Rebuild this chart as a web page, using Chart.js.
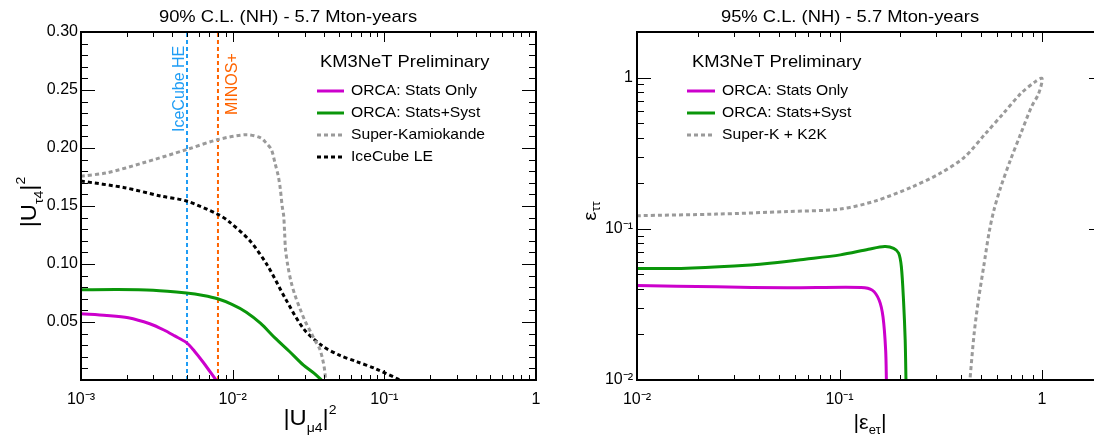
<!DOCTYPE html>
<html><head><meta charset="utf-8">
<script src="https://cdn.jsdelivr.net/npm/chart.js@4.4.0/dist/chart.umd.min.js"></script>
<style>
html,body{margin:0;padding:0;background:#fff;overflow:hidden;width:1094px;height:436px;}
.pane{position:absolute;top:0;height:436px;}
</style></head><body>
<div class="pane" style="left:0;width:560px"><canvas id="c1"></canvas></div>
<div class="pane" style="left:546px;width:572px"><canvas id="c2"></canvas></div>
<script>
// ---------- Left panel: |U_tau4|^2 vs |U_mu4|^2 (90% C.L.) ----------
const leftStatsOnlyX = [0.001, 0.00148, 0.00205, 0.00284, 0.00352, 0.00415, 0.00496, 0.0056, 0.00641, 0.00776];
const leftStatsOnlyY = [0.0571, 0.0557, 0.0537, 0.0485, 0.0431, 0.0380, 0.0322, 0.0248, 0.0151, 0];
const leftStatsSystX = [0.001, 0.00174, 0.00299, 0.00496, 0.00641, 0.00796, 0.00989, 0.0123, 0.0153, 0.019, 0.0236, 0.0293, 0.0345, 0.0385];
const leftStatsSystY = [0.0777, 0.078, 0.0774, 0.0749, 0.0728, 0.070, 0.0652, 0.0585, 0.0488, 0.0363, 0.0248, 0.0128, 0.0057, 0];
const superKamX = [0.001, 0.00148, 0.00254, 0.00496, 0.00796, 0.0123, 0.0153, 0.0166, 0.018, 0.019, 0.020, 0.0206, 0.0212, 0.0217, 0.022, 0.0223, 0.0231, 0.0243, 0.0258, 0.0278, 0.0301, 0.0327, 0.0351, 0.0374, 0.0391, 0.0404, 0.041];
const superKamY = [0.1757, 0.1786, 0.187, 0.1986, 0.2072, 0.2115, 0.2087, 0.2044, 0.1986, 0.1872, 0.1757, 0.1650, 0.150, 0.1414, 0.1272, 0.1129, 0.0985, 0.0843, 0.0728, 0.0614, 0.0505, 0.0414, 0.0334, 0.0271, 0.0185, 0.0085, 0];
const iceCubeLEX = [0.001, 0.00194, 0.00334, 0.00496, 0.00796, 0.00937, 0.013, 0.017, 0.0223, 0.0293, 0.0385, 0.0505, 0.0662, 0.0869, 0.127];
const iceCubeLEY = [0.1715, 0.1658, 0.1586, 0.1543, 0.1429, 0.137, 0.120, 0.0985, 0.070, 0.0443, 0.0299, 0.0214, 0.0157, 0.0099, 0];
const iceCubeHEX = 0.005;
const minosPlusX = 0.008;
const leftYRange = [0, 0.30];
const leftXRange = [0.001, 1];

// ---------- Right panel: eps_tautau vs |eps_etau| (95% C.L.) ----------
const rightStatsOnlyX = [0.01, 0.0247, 0.0552, 0.128, 0.145, 0.157, 0.164, 0.169, 0.1705];
const rightStatsOnlyY = [0.0422, 0.0413, 0.0407, 0.0409, 0.0393, 0.0337, 0.0261, 0.0157, 0.0095];
const rightStatsSystX = [0.01, 0.0165, 0.0302, 0.0452, 0.0676, 0.101, 0.139, 0.167, 0.185, 0.196, 0.202, 0.207, 0.211, 0.213];
const rightStatsSystY = [0.0547, 0.0547, 0.0567, 0.0592, 0.0629, 0.0672, 0.0732, 0.0763, 0.0743, 0.0689, 0.0561, 0.0337, 0.0183, 0.0095];
const superKK2KX = [0.01, 0.0247, 0.0552, 0.101, 0.151, 0.226, 0.311, 0.413, 0.525, 0.643, 0.785, 0.923, 1.0, 0.962, 0.887, 0.785, 0.697, 0.625, 0.578, 0.547, 0.515, 0.485, 0.462, 0.439];
const superKK2KY = [0.122, 0.125, 0.130, 0.135, 0.153, 0.188, 0.231, 0.297, 0.425, 0.577, 0.783, 0.936, 0.985, 0.783, 0.64, 0.425, 0.283, 0.188, 0.132, 0.0936, 0.0561, 0.0337, 0.0202, 0.0095];
const rightXRange = [0.01, 2];
const rightYRange = [0.01, 2];

const FONT = "'Liberation Sans', Arial, Helvetica, sans-serif";
const SX = 1.08; // horizontal text stretch as in the reference rendering
const MAGENTA = '#cc00cc', GREEN = '#0a960a', GRAY = '#9a9a9a', BLACK = '#000000', BLUE = '#1f9df5', ORANGE = '#ff6400';
const DOT = [4, 3];

function pts(xs, ys) { return xs.map((x, i) => ({x: x, y: ys[i]})); }
function ds(label, data, color, dash, width) {
  return {label, data, borderColor: color, backgroundColor: color, borderDash: dash, borderWidth: width,
    showLine: true, pointRadius: 0, tension: 0.3, fill: false};
}
const SUP = {'-': '\u207B', '0': '\u2070', '1': '\u00B9', '2': '\u00B2', '3': '\u00B3', '4': '\u2074', '5': '\u2075'};
function isPow10(v) { const l = Math.log10(v); return Math.abs(l - Math.round(l)) < 1e-6; }
function powLabel(v) {
  const e = Math.round(Math.log10(v));
  if (e === 0) return '1';
  if (e === 1) return '10';
  return '10' + String(e).split('').map(c => SUP[c]).join('');
}
function logTicks(min, max) {
  const out = [];
  for (let e = Math.floor(Math.log10(min)); e <= Math.ceil(Math.log10(max)); e++)
    for (let m = 1; m <= 9; m++) {
      const v = m * Math.pow(10, e);
      if (v >= min * 0.9999 && v <= max * 1.0001) out.push({v, major: m === 1});
    }
  return out;
}
function linTicks(min, max, step, majorEvery) {
  const out = [];
  const n = Math.round((max - min) / step);
  for (let i = 0; i <= n; i++) out.push({v: min + i * step, major: i % majorEvery === 0});
  return out;
}

const frameTicks = {
  id: 'frameTicks',
  afterDatasetsDraw(chart, args, o) {
    const {ctx, chartArea: a, scales: {x, y}} = chart;
    ctx.save();
    ctx.strokeStyle = '#000';
    ctx.lineWidth = 1;
    ctx.beginPath();
    for (const t of o.xTicks) {
      const px = Math.round(x.getPixelForValue(t.v)) + 0.5;
      const L = t.major ? 10 : 5;
      ctx.moveTo(px, a.bottom); ctx.lineTo(px, a.bottom - L);
      ctx.moveTo(px, a.top); ctx.lineTo(px, a.top + L);
    }
    for (const t of o.yTicks) {
      const py = Math.round(y.getPixelForValue(t.v)) + 0.5;
      const L = t.major ? 14 : 7;
      ctx.moveTo(a.left, py); ctx.lineTo(a.left + L, py);
      ctx.moveTo(a.right, py); ctx.lineTo(a.right - L, py);
    }
    ctx.stroke();
    ctx.lineWidth = 2;
    ctx.strokeRect(a.left, a.top, a.right - a.left, a.bottom - a.top);
    ctx.restore();
  }
};

function stretchText(ctx, s, x, y, size, align) {
  ctx.save();
  ctx.font = size + 'px ' + FONT;
  ctx.translate(x, y);
  ctx.scale(SX, 1);
  ctx.textAlign = align || 'left';
  ctx.fillText(s, 0, 0);
  ctx.restore();
}
function drawRich(ctx, x, y, parts, align) {
  let w = 0;
  for (const p of parts) { ctx.font = p.size + 'px ' + FONT; w += ctx.measureText(p.t).width * SX; }
  let cx = align === 'center' ? x - w / 2 : x;
  for (const p of parts) {
    stretchText(ctx, p.t, cx, y + (p.dy || 0), p.size, 'left');
    ctx.font = p.size + 'px ' + FONT;
    cx += ctx.measureText(p.t).width * SX;
  }
}

const annot = {
  id: 'annot',
  afterDraw(chart, args, o) {
    const ctx = chart.ctx;
    ctx.save();
    ctx.textBaseline = 'middle';
    ctx.fillStyle = '#000';
    stretchText(ctx, o.title, o.titleX, 17, 17, 'center');
    stretchText(ctx, 'KM3NeT Preliminary', o.legX, 62, 17, 'left');
    o.legend.forEach((it, i) => {
      const yy = 91 + 22 * i;
      ctx.save();
      ctx.strokeStyle = it.color; ctx.lineWidth = 3; ctx.setLineDash(it.dash);
      ctx.beginPath(); ctx.moveTo(o.lineX0, yy); ctx.lineTo(o.lineX1, yy); ctx.stroke();
      ctx.restore();
      stretchText(ctx, it.label, o.textX, yy, 14.5, 'left');
    });
    ctx.textBaseline = 'alphabetic';
    drawRich(ctx, o.xTitleX, o.xTitleY, o.xTitle, 'center');
    ctx.save();
    ctx.translate(o.yTitleX, o.yTitleY);
    ctx.rotate(-Math.PI / 2);
    drawRich(ctx, 0, 0, o.yTitle, 'center');
    ctx.restore();
    (o.vlabels || []).forEach(v => {
      ctx.save();
      ctx.fillStyle = v.color;
      ctx.font = '16px ' + FONT;
      ctx.translate(chart.scales.x.getPixelForValue(v.x) + v.dx, v.y);
      ctx.rotate(-Math.PI / 2);
      ctx.textAlign = 'left';
      ctx.fillText(v.text, 0, 0);
      ctx.restore();
    });
    ctx.restore();
  }
};

function axisCommon(extra) {
  return Object.assign({
    grid: {display: false, drawTicks: false},
    border: {display: false},
  }, extra);
}
const tickFont = {family: FONT, size: 16};

// ----- left chart -----
new Chart(document.getElementById('c1'), {
  type: 'scatter',
  data: {datasets: [
    ds('ORCA: Stats Only', pts(leftStatsOnlyX, leftStatsOnlyY), MAGENTA, [], 3),
    ds('ORCA: Stats+Syst', pts(leftStatsSystX, leftStatsSystY), GREEN, [], 3),
    ds('Super-Kamiokande', pts(superKamX, superKamY), GRAY, DOT, 3),
    ds('IceCube LE', pts(iceCubeLEX, iceCubeLEY), BLACK, DOT, 3),
    Object.assign(ds('IceCube HE', pts([iceCubeHEX, iceCubeHEX], leftYRange), BLUE, [4, 3], 2), {tension: 0}),
    Object.assign(ds('MINOS+', pts([minosPlusX, minosPlusX], leftYRange), ORANGE, [4, 3], 2), {tension: 0}),
  ]},
  options: {
    responsive: true, maintainAspectRatio: false, animation: false, events: [],
    layout: {padding: {top: 32, right: 24, left: 0, bottom: 0}},
    plugins: {
      legend: {display: false}, tooltip: {enabled: false},
      frameTicks: {xTicks: logTicks(leftXRange[0], leftXRange[1]), yTicks: linTicks(leftYRange[0], leftYRange[1], 0.01, 5)},
      annot: {
        title: '90% C.L. (NH) - 5.7 Mton-years', titleX: 288,
        legX: 320, lineX0: 317, lineX1: 344, textX: 351,
        legend: [
          {label: 'ORCA: Stats Only', color: MAGENTA, dash: []},
          {label: 'ORCA: Stats+Syst', color: GREEN, dash: []},
          {label: 'Super-Kamiokande', color: GRAY, dash: DOT},
          {label: 'IceCube LE', color: BLACK, dash: DOT},
        ],
        xTitleX: 310, xTitleY: 425,
        xTitle: [{t: '|U', size: 22}, {t: '\u03BC4', size: 13, dy: 7}, {t: '|', size: 22}, {t: '2', size: 13, dy: -11}],
        yTitleX: 36, yTitleY: 202,
        yTitle: [{t: '|U', size: 22}, {t: '\u03C44', size: 13, dy: 7}, {t: '|', size: 22}, {t: '2', size: 13, dy: -11}],
        vlabels: [
          {text: 'IceCube HE', x: iceCubeHEX, dx: -3, y: 132, color: BLUE},
          {text: 'MINOS+', x: minosPlusX, dx: 19, y: 115, color: ORANGE},
        ],
      },
    },
    scales: {
      x: axisCommon({type: 'logarithmic', min: leftXRange[0], max: leftXRange[1],
        ticks: {autoSkip: false, maxRotation: 0, padding: 10, color: '#000', font: tickFont,
          callback: v => isPow10(v) ? powLabel(v) : ''},
        afterFit(s) { s.height = 56; }}),
      y: axisCommon({type: 'linear', min: leftYRange[0], max: leftYRange[1],
        ticks: {stepSize: 0.01, autoSkip: false, padding: 3, color: '#000', font: tickFont,
          callback: v => { const k = Math.round(v * 100); return (k % 5 === 0 && k > 0) ? v.toFixed(2) : ''; }},
        afterFit(s) { s.width = 81; }}),
    },
  },
  plugins: [frameTicks, annot],
});

// ----- right chart -----
new Chart(document.getElementById('c2'), {
  type: 'scatter',
  data: {datasets: [
    ds('ORCA: Stats Only', pts(rightStatsOnlyX, rightStatsOnlyY), MAGENTA, [], 3),
    ds('ORCA: Stats+Syst', pts(rightStatsSystX, rightStatsSystY), GREEN, [], 3),
    ds('Super-K + K2K', pts(superKK2KX, superKK2KY), GRAY, DOT, 3),
  ]},
  options: {
    responsive: true, maintainAspectRatio: false, animation: false, events: [],
    layout: {padding: {top: 32, right: 15, left: 0, bottom: 0}},
    plugins: {
      legend: {display: false}, tooltip: {enabled: false},
      frameTicks: {xTicks: logTicks(rightXRange[0], rightXRange[1]), yTicks: logTicks(rightYRange[0], rightYRange[1])},
      annot: {
        title: '95% C.L. (NH) - 5.7 Mton-years', titleX: 304,
        legX: 146, lineX0: 141, lineX1: 169, textX: 176,
        legend: [
          {label: 'ORCA: Stats Only', color: MAGENTA, dash: []},
          {label: 'ORCA: Stats+Syst', color: GREEN, dash: []},
          {label: 'Super-K + K2K', color: GRAY, dash: DOT},
        ],
        xTitleX: 324, xTitleY: 429,
        xTitle: [{t: '|\u03B5', size: 20}, {t: 'e\u03C4', size: 12, dy: 5}, {t: '|', size: 20}],
        yTitleX: 50, yTitleY: 211,
        yTitle: [{t: '\u03B5', size: 19}, {t: '\u03C4\u03C4', size: 12, dy: 4}],
      },
    },
    scales: {
      x: axisCommon({type: 'logarithmic', min: rightXRange[0], max: rightXRange[1],
        ticks: {autoSkip: false, maxRotation: 0, padding: 10, color: '#000', font: tickFont,
          callback: v => isPow10(v) ? powLabel(v) : ''},
        afterFit(s) { s.height = 56; }}),
      y: axisCommon({type: 'logarithmic', min: rightYRange[0], max: rightYRange[1],
        ticks: {autoSkip: false, padding: 4, color: '#000', font: tickFont,
          callback: v => isPow10(v) ? powLabel(v) : ''},
        afterFit(s) { s.width = 91; }}),
    },
  },
  plugins: [frameTicks, annot],
});
</script>
</body></html>
